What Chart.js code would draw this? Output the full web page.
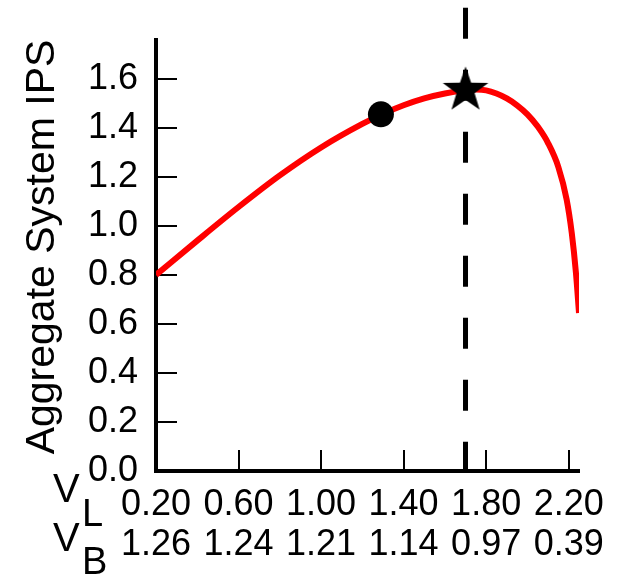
<!DOCTYPE html>
<html>
<head>
<meta charset="utf-8">
<script src="https://cdn.jsdelivr.net/npm/chart.js@4/dist/chart.umd.min.js"></script>
<style>
    html, body { margin: 0; padding: 0; background: #fff; }
    #ipsChart { display: block; }
</style>
</head>
<body>
<canvas id="ipsChart" width="633" height="580"></canvas>
<script>
// Datos
const curveVL = [0.20, 0.40, 0.60, 0.80, 1.00, 1.20, 1.30, 1.40, 1.50, 1.60, 1.70, 1.75,
                 1.80, 1.85, 1.90, 1.95, 2.00, 2.05, 2.10, 2.15, 2.19, 2.215, 2.235, 2.25];
const curveIPS = [0.800, 0.940, 1.077, 1.206, 1.320, 1.416, 1.457, 1.492, 1.520, 1.540, 1.553, 1.556,
                  1.553, 1.540, 1.520, 1.492, 1.455, 1.405, 1.338, 1.240, 1.108, 0.970, 0.810, 0.645];

const circleVL = [1.29];
const circleIPS = [1.455];
const starVL = [1.70];
const starIPS = [1.563];

const optimumVL = [1.70, 1.70];
const optimumIPS = [1.89, 0.0];

const tickVL = [0.20, 0.60, 1.00, 1.40, 1.80, 2.20];
const tickVB = ['1.26', '1.24', '1.21', '1.14', '0.97', '0.39'];
const tickIPS = [0.0, 0.2, 0.4, 0.6, 0.8, 1.0, 1.2, 1.4, 1.6];

const FONT = "'Liberation Sans', Arial, Helvetica, sans-serif";

document.addEventListener('DOMContentLoaded', function() {
    initChart();
});

function toPoints(xs, ys) {
    return xs.map((x, i) => ({ x: x, y: ys[i] }));
}

function makeStar(outer, inner) {
    // Estrella rellena de cinco puntas para el punto optimo
    const size = Math.ceil(outer * 2 + 4);
    const c = document.createElement('canvas');
    c.width = size;
    c.height = size;
    const ctx = c.getContext('2d');
    const cx = size / 2, cy = size / 2 + outer * 0.1;
    ctx.beginPath();
    for (let i = 0; i < 10; i++) {
        const r = i % 2 === 0 ? outer : inner;
        const a = -Math.PI / 2 + i * Math.PI / 5;
        const px = cx + r * Math.cos(a);
        const py = cy + r * Math.sin(a);
        if (i === 0) ctx.moveTo(px, py); else ctx.lineTo(px, py);
    }
    ctx.closePath();
    ctx.fillStyle = '#000';
    ctx.fill();
    return c;
}

// Marcas de los ejes hacia dentro y etiquetas V_L / V_B
const innerTicks = {
    id: 'innerTicks',
    beforeDatasetsDraw(chart) {
        const ctx = chart.ctx;
        const xs = chart.scales.x;
        const ys = chart.scales.y;
        ctx.save();
        ctx.strokeStyle = '#000';
        ctx.lineWidth = 2;
        ctx.beginPath();
        tickIPS.forEach(v => {
            if (v === 0) return;
            const py = Math.round(ys.getPixelForValue(v));
            ctx.moveTo(xs.left, py);
            ctx.lineTo(xs.left + 21, py);
        });
        tickVL.forEach(v => {
            if (v === tickVL[0]) return;
            const px = Math.round(xs.getPixelForValue(v));
            ctx.moveTo(px, ys.bottom);
            ctx.lineTo(px, ys.bottom - 21);
        });
        ctx.stroke();
        ctx.restore();
    },
    afterDraw(chart) {
        const ctx = chart.ctx;
        const left = chart.chartArea.left;
        const top = chart.scales.x.top;
        ctx.save();
        ctx.fillStyle = '#000';
        ctx.textAlign = 'left';
        ctx.textBaseline = 'middle';
        ctx.font = '40px ' + FONT;
        ctx.fillText('V', left - 103, top + 20);
        ctx.fillText('V', left - 103, top + 69);
        ctx.font = '38px ' + FONT;
        ctx.fillText('L', left - 74, top + 45);
        ctx.fillText('B', left - 74, top + 93);
        ctx.restore();
    }
};

function initChart() {
    const canvas = document.getElementById('ipsChart');
    const ctx = canvas.getContext('2d');

    new Chart(ctx, {
        type: 'line',
        data: {
            datasets: [
                {
                    label: 'Optimo',
                    data: toPoints(starVL, starIPS),
                    showLine: false,
                    pointStyle: makeStar(24, 9.5),
                    pointRadius: 24,
                    clip: false
                },
                {
                    label: 'Punto',
                    data: toPoints(circleVL, circleIPS),
                    showLine: false,
                    pointStyle: 'circle',
                    pointRadius: 13,
                    pointBackgroundColor: '#000',
                    pointBorderColor: '#000',
                    pointBorderWidth: 0,
                    clip: false
                },
                {
                    label: 'Aggregate System IPS',
                    data: toPoints(curveVL, curveIPS),
                    borderColor: '#ff0000',
                    borderWidth: 6,
                    pointRadius: 0,
                    cubicInterpolationMode: 'monotone',
                    fill: false
                },
                {
                    label: 'Limite',
                    data: toPoints(optimumVL, optimumIPS),
                    borderColor: '#000',
                    borderWidth: 5,
                    borderDash: [31, 31],
                    pointRadius: 0,
                    clip: false
                }
            ]
        },
        options: {
            responsive: false,
            animation: false,
            events: [],
            layout: {
                padding: { left: 0, top: 39, right: 54, bottom: 0 }
            },
            scales: {
                x: {
                    type: 'linear',
                    min: 0.2,
                    max: 2.25,
                    afterFit: scale => { scale.height = 109; },
                    afterBuildTicks: scale => {
                        scale.ticks = tickVL.map(v => ({ value: v }));
                    },
                    grid: { display: false, drawTicks: false },
                    border: { display: true, color: '#000', width: 4 },
                    ticks: {
                        autoSkip: false,
                        maxRotation: 0,
                        padding: 14,
                        color: '#000',
                        font: { family: FONT, size: 36, lineHeight: 40 / 36 },
                        callback: (value, index) => [tickVL[index].toFixed(2), tickVB[index]]
                    }
                },
                y: {
                    type: 'linear',
                    min: 0,
                    max: 1.76,
                    afterFit: scale => { scale.width = 156; },
                    afterBuildTicks: scale => {
                        scale.ticks = tickIPS.map(v => ({ value: v }));
                    },
                    grid: { display: false, drawTicks: false },
                    border: { display: true, color: '#000', width: 4 },
                    ticks: {
                        autoSkip: false,
                        padding: 18,
                        color: '#000',
                        font: { family: FONT, size: 36 },
                        callback: value => value.toFixed(1)
                    },
                    title: {
                        display: true,
                        text: 'Aggregate System IPS',
                        align: 'end',
                        color: '#000',
                        font: { family: FONT, size: 41 },
                        padding: { top: 18, bottom: 0 }
                    }
                }
            },
            plugins: {
                legend: { display: false },
                tooltip: { enabled: false }
            }
        },
        plugins: [innerTicks]
    });
}
</script>
</body>
</html>
